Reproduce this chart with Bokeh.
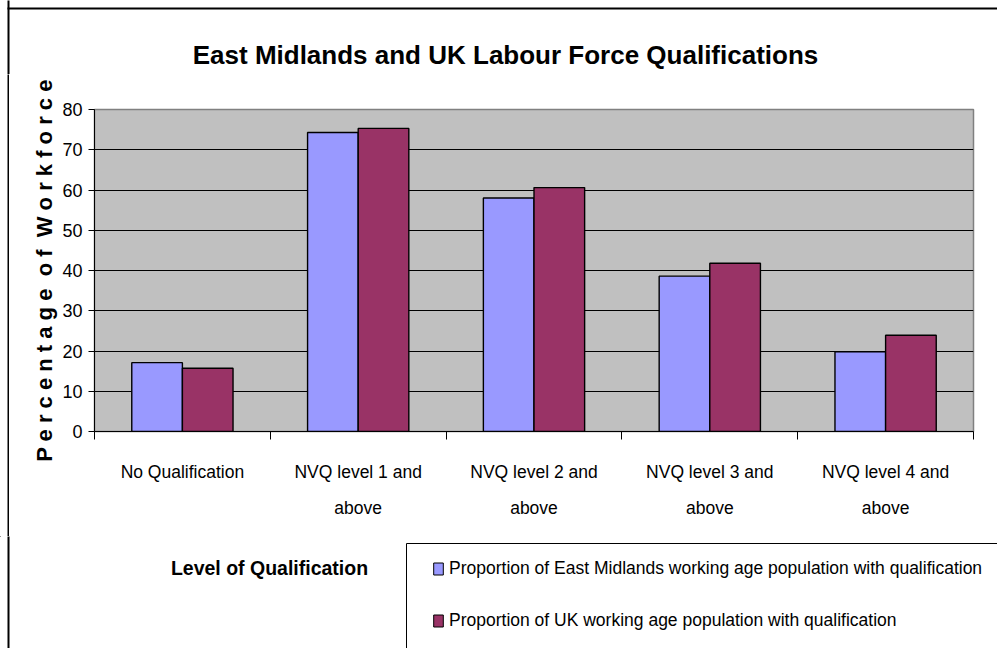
import numpy as np
from bokeh.plotting import figure
from bokeh.layouts import column, row
from bokeh.models import (Range1d, FixedTicker, Label, Legend, LegendItem,
                          ColumnDataSource)
from bokeh.embed import file_html
from bokeh.resources import INLINE

# ---------------- data ----------------
categories = [
    "No Qualification",
    "NVQ level 1 and\nabove",
    "NVQ level 2 and\nabove",
    "NVQ level 3 and\nabove",
    "NVQ level 4 and\nabove",
]
east_midlands = [17.1, 74.3, 58.0, 38.6, 19.8]
uk = [15.7, 75.3, 60.6, 41.8, 23.9]
series_names = [
    "Proportion of East Midlands working age population with qualification",
    "Proportion of UK working age population with qualification",
]
y_ticks = [0, 10, 20, 30, 40, 50, 60, 70, 80]
title_text = "East Midlands and UK Labour Force Qualifications"
y_title = "P e r c e n t a g e \u00a0o f \u00a0W o r k f o r c e"
x_title = "Level of Qualification"

# ---------------- layout constants (page pixels) ----------------
W = 997
H_TOP, H_MAIN, H_BOT = 74, 462, 112
W_EDGE = 9                        # strip holding the chart's left border
W_MAIN = W - W_EDGE
FL, FR = 94 - W_EDGE, 973 - W_EDGE   # plot frame left / right in main figure
F_TOP, F_BOT = 109 - H_TOP, 431 - H_TOP
B0, B1 = 7, 9                     # chart border band
YMAX = y_ticks[-1]
N = len(categories)
FONT = "Liberation Sans"
EM_COLOR = "#9999FF"
UK_COLOR = "#993366"


def strip(width, height):
    """a figure whose frame is its whole canvas, pixel coordinates, y down"""
    f = figure(width=width, height=height, output_backend="svg",
               toolbar_location=None, x_range=Range1d(0, width),
               y_range=Range1d(height, 0), x_axis_type=None,
               y_axis_type=None, min_border=0, outline_line_color=None,
               background_fill_color="white", border_fill_color="white",
               frame_align=False)
    f.grid.visible = False
    return f


def left_border(f, height):
    f.quad(left=[B0], right=[B1], top=[-10], bottom=[height + 10],
           fill_color="black", line_color=None)


# ---------------- title strip ----------------
top = strip(W, H_TOP)
top.quad(left=[B0], right=[W + 10], top=[B0], bottom=[B1],
         fill_color="black", line_color=None)
left_border(top, H_TOP)
top.add_layout(Label(x=505, y=54, text=title_text, text_align="center",
                     text_baseline="middle", text_font=FONT,
                     text_font_style="bold", text_font_size="26px",
                     text_color="black"))

# ---------------- left border beside the main chart ----------------
edge = strip(W_EDGE, H_MAIN)
left_border(edge, H_MAIN)

# ---------------- main chart ----------------
p = figure(width=W_MAIN, height=H_MAIN, output_backend="svg",
           toolbar_location=None,
           x_range=Range1d(0, N), y_range=Range1d(0, YMAX),
           min_border_left=FL, min_border_right=W_MAIN - FR,
           min_border_top=F_TOP, min_border_bottom=H_MAIN - F_BOT,
           background_fill_color="#C0C0C0", border_fill_color="white",
           outline_line_color="#808080", outline_line_width=1.5,
           frame_align=False)

centers = np.arange(N) + 0.5
offset, bar_w = 0.144, 0.288
src = ColumnDataSource(dict(x_em=centers - offset, x_uk=centers + offset,
                            em=east_midlands, uk=uk))
p.vbar(x="x_em", top="em", width=bar_w, source=src,
       fill_color=EM_COLOR, line_color="black", line_width=1.4)
p.vbar(x="x_uk", top="uk", width=bar_w, source=src,
       fill_color=UK_COLOR, line_color="black", line_width=1.4)

p.xgrid.visible = False
p.ygrid.ticker = FixedTicker(ticks=y_ticks[1:-1])
p.ygrid.grid_line_color = "black"
p.ygrid.grid_line_width = 1

p.yaxis.ticker = FixedTicker(ticks=y_ticks)
p.yaxis.axis_line_color = "black"
p.yaxis.major_tick_line_color = "black"
p.yaxis.major_tick_out = 6
p.yaxis.major_tick_in = 0
p.yaxis.minor_tick_out = 0
p.yaxis.minor_tick_in = 0
p.yaxis.major_label_standoff = 6
p.yaxis.major_label_text_font = FONT
p.yaxis.major_label_text_font_size = "18px"
p.yaxis.major_label_text_color = "black"
p.yaxis.axis_label = y_title
p.yaxis.axis_label_text_font = FONT
p.yaxis.axis_label_text_font_style = "bold"
p.yaxis.axis_label_text_font_size = "22px"
p.yaxis.axis_label_text_color = "black"
p.yaxis.axis_label_standoff = 2

p.xaxis.ticker = FixedTicker(ticks=list(centers), minor_ticks=list(range(N + 1)))
p.xaxis.major_label_overrides = {float(c): lab for c, lab in zip(centers, categories)}
p.xaxis.axis_line_color = "black"
p.xaxis.major_tick_out = 0
p.xaxis.major_tick_in = 0
p.xaxis.minor_tick_out = 8
p.xaxis.minor_tick_in = 0
p.xaxis.minor_tick_line_color = "black"
p.xaxis.major_label_standoff = 22
p.xaxis.major_label_text_font = FONT
p.xaxis.major_label_text_font_size = "17.5px"
p.xaxis.major_label_text_color = "black"
p.xaxis.major_label_text_line_height = 1.8

# ---------------- bottom strip: axis title + legend ----------------
bot = strip(W, H_BOT)
left_border(bot, H_BOT)
bot.add_layout(Label(x=269, y=31, text=x_title, text_align="center",
                     text_baseline="middle", text_font=FONT,
                     text_font_style="bold", text_font_size="19.5px",
                     text_color="black"))
# legend frame (runs off the right and bottom edge, as in the original)
bot.quad(left=[406], right=[W + 20], top=[7], bottom=[H_BOT + 20],
         fill_color=None, line_color="black", line_width=1)
# off-canvas stand-ins that give the legend its swatches
d_em = bot.vbar(x=[-100], top=[0], width=1, fill_color=EM_COLOR,
                line_color="black", line_width=1)
d_uk = bot.vbar(x=[-100], top=[0], width=1, fill_color=UK_COLOR,
                line_color="black", line_width=1)
legend = Legend(items=[LegendItem(label=series_names[0], renderers=[d_em]),
                       LegendItem(label=series_names[1], renderers=[d_uk])],
                location=(432, 17), orientation="vertical",
                padding=10, spacing=31, label_height=20,
                glyph_width=12, glyph_height=15, label_standoff=5,
                label_text_font=FONT, label_text_font_size="17.5px",
                label_text_color="black",
                border_line_color=None, background_fill_alpha=0.0,
                margin=0)
bot.add_layout(legend, "center")

page = column(top, row(edge, p, spacing=0), bot, spacing=0)

html = file_html(page, INLINE)
open("out.html", "w").write(html)
